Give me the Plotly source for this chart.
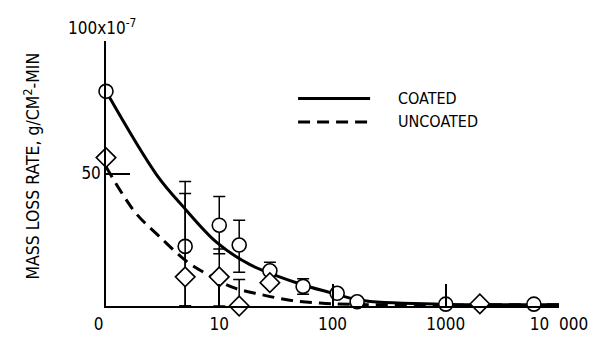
import plotly.graph_objects as go

# ---- data (values in units of 1e-7 g/cm^2-min) ----
coated_x = [1, 5, 10, 15, 28, 55, 110, 165, 1000, 6000]
coated_y = [81, 22.5, 30.5, 23, 13.3, 7.4, 4.8, 1.6, 0.7, 0.7]
coated_err_plus = [0, 24.5, 10.8, 9.4, 3.2, 2.9, 0, 0, 0, 0]
coated_err_minus = [0, 22.5, 10.8, 10.3, 3.6, 3.0, 0, 0, 0, 0]

uncoated_x = [1, 5, 10, 15, 28, 2000]
uncoated_y = [56, 11, 11, 0, 8.8, 0.8]
uncoated_err_plus = [0, 31.5, 10.5, 10, 0, 0]
uncoated_err_minus = [0, 11, 11, 0, 0, 0]

coated_fit_x = [1, 2.8, 4.8, 9.5, 18.7, 51, 95, 175, 900, 10000]
coated_fit_y = [81, 49.5, 37.5, 24, 15.6, 8.4, 5.1, 2.2, 0.7, 0.5]

uncoated_fit_x = [1, 1.41, 1.88, 3.0, 5.2, 7.8, 13.2, 23, 42, 77, 150, 10000]
uncoated_fit_y = [52.5, 42, 34.5, 26, 16.7, 12, 7, 4.4, 2.2, 1.1, 0.6, 0.5]

x_tickvals = [1, 10, 100, 1000, 10000]
x_ticktext = ["0\u00a0\u00a0\u00a0", "10", "100", "1000", "10\u00a0\u00a0000"]
y_tickvals = [50]
y_ticktext = ["50"]

FONT = "Liberation Sans Narrow, DejaVu Sans Condensed, Arial Narrow, Liberation Sans, sans-serif"

fig = go.Figure()

fig.add_trace(go.Scatter(
    x=coated_fit_x, y=coated_fit_y, mode="lines",
    line=dict(color="black", width=3, shape="spline", smoothing=1.0),
    cliponaxis=False, showlegend=False, hoverinfo="skip"))
fig.add_trace(go.Scatter(
    x=uncoated_fit_x, y=uncoated_fit_y, mode="lines",
    line=dict(color="black", width=3, dash="12px,7px", shape="spline", smoothing=1.0),
    cliponaxis=False, showlegend=False, hoverinfo="skip"))

fig.add_trace(go.Scatter(
    x=coated_x, y=coated_y, mode="markers",
    marker=dict(symbol="circle", size=14, color="white", line=dict(color="black", width=1.6)),
    error_y=dict(type="data", symmetric=False, array=coated_err_plus, arrayminus=coated_err_minus,
                 color="black", thickness=1.5, width=6),
    cliponaxis=False, showlegend=False))
fig.add_trace(go.Scatter(
    x=uncoated_x, y=uncoated_y, mode="markers",
    marker=dict(symbol="diamond", size=15, color="white", line=dict(color="black", width=1.6)),
    error_y=dict(type="data", symmetric=False, array=uncoated_err_plus, arrayminus=uncoated_err_minus,
                 color="black", thickness=1.5, width=6),
    cliponaxis=False, showlegend=False))

fig.update_layout(
    width=603, height=346,
    margin=dict(l=106, r=44, t=41, b=30),
    paper_bgcolor="white", plot_bgcolor="white",
    font=dict(family=FONT, size=16, color="black"),
    xaxis=dict(type="log", range=[0, 4], showgrid=False, zeroline=False,
               showline=True, linecolor="black", linewidth=2,
               tickmode="array", tickvals=x_tickvals, ticktext=x_ticktext,
               ticks="inside", ticklen=22, tickwidth=1.5, tickcolor="black",
               tickfont=dict(size=17), ticklabelstandoff=2),
    yaxis=dict(range=[0, 100], showgrid=False, zeroline=False,
               showline=True, linecolor="black", linewidth=1.5,
               tickmode="array", tickvals=y_tickvals, ticktext=y_ticktext,
               ticks="inside", ticklen=24, tickwidth=1.5, tickcolor="black",
               minor=dict(ticks="inside", tick0=0, dtick=50, ticklen=24,
                          tickwidth=1.5, tickcolor="black", showgrid=False),
               tickfont=dict(size=17), ticklabelstandoff=0),
)

# y-axis title and exponent label
fig.add_annotation(text="MASS LOSS RATE, g/CM<sup>2</sup>-MIN", xref="paper", yref="paper",
                   x=-0.163, y=0.527, xanchor="center", yanchor="middle",
                   textangle=-90, showarrow=False, font=dict(size=17.5))
fig.add_annotation(text="100x10<sup>-7</sup>", xref="paper", yref="paper",
                   x=-0.009, y=1.051, xanchor="center", yanchor="middle",
                   showarrow=False, font=dict(size=17))

# legend (drawn as decoration)
fig.add_shape(type="line", xref="paper", yref="paper", x0=0.424, x1=0.583, y0=0.783, y1=0.783,
              line=dict(color="black", width=3))
fig.add_shape(type="line", xref="paper", yref="paper", x0=0.424, x1=0.583, y0=0.6945, y1=0.6945,
              line=dict(color="black", width=3, dash="12px,7px"))
fig.add_annotation(text="COATED", xref="paper", yref="paper", x=0.640, y=0.783,
                   xanchor="left", yanchor="middle", showarrow=False, font=dict(size=16))
fig.add_annotation(text="UNCOATED", xref="paper", yref="paper", x=0.640, y=0.6945,
                   xanchor="left", yanchor="middle", showarrow=False, font=dict(size=16))

fig.write_html("out.html")
